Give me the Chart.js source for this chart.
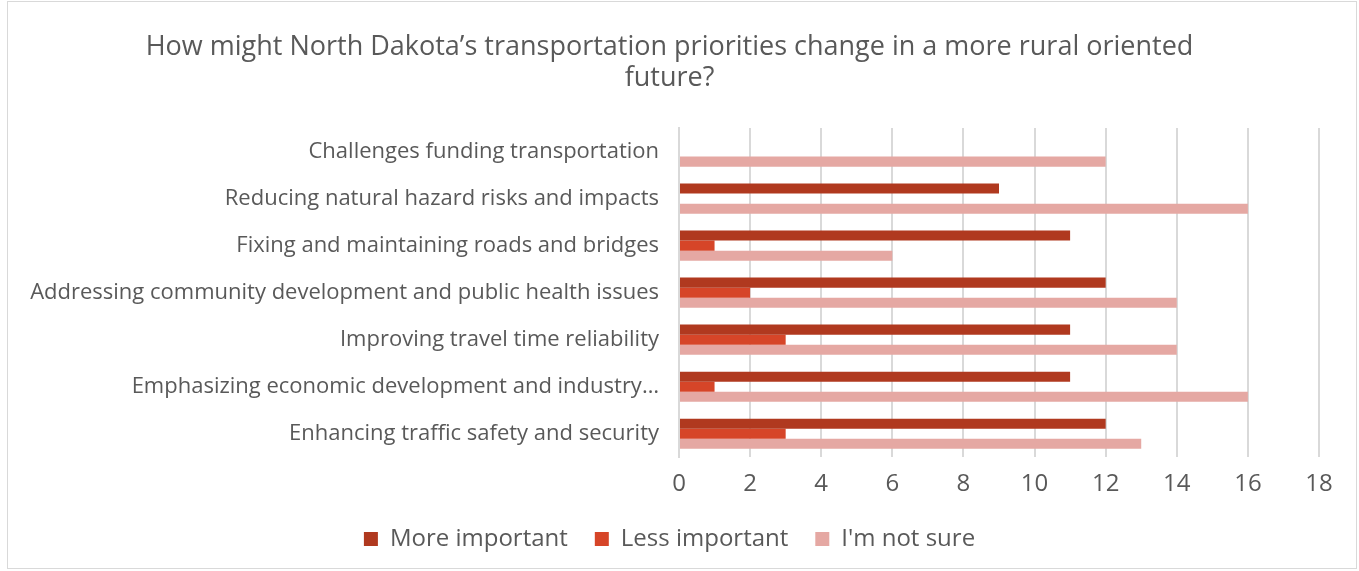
<!DOCTYPE html>
<html>
<head>
<meta charset="utf-8">
<script src="https://cdn.jsdelivr.net/npm/chart.js@4/dist/chart.umd.min.js"></script>
<style>
  html,body{margin:0;padding:0;background:#fff;}
  #wrap{position:relative;width:1359px;height:571px;}
  #frame{position:absolute;left:7px;top:1px;width:1350px;height:568px;border:1px solid #D9D9D9;box-sizing:border-box;}
  canvas{position:absolute;left:0;top:0;}
</style>
</head>
<body>
<div id="wrap">
  <div id="frame"></div>
  <canvas id="chart" width="1359" height="571"></canvas>
</div>
<script>
  const categories = [
    'Challenges funding transportation',
    'Reducing natural hazard risks and impacts',
    'Fixing and maintaining roads and bridges',
    'Addressing community development and public health issues',
    'Improving travel time reliability',
    'Emphasizing economic development and industry\u2026',
    'Enhancing traffic safety and security'
  ];
  const moreImportant = [0, 9, 11, 12, 11, 11, 12];
  const lessImportant = [0, 0, 1, 2, 3, 1, 3];
  const notSure = [12, 16, 6, 14, 14, 16, 13];
  const xTicks = [0, 2, 4, 6, 8, 10, 12, 14, 16, 18];

  const FONT = "'Open Sans', 'DejaVu Sans', sans-serif";
  const GREY = '#595959';

  new Chart(document.getElementById('chart'), {
    type: 'bar',
    data: {
      labels: categories,
      datasets: [
        {label: 'More important', data: moreImportant, backgroundColor: '#B0391F'},
        {label: 'Less important', data: lessImportant, backgroundColor: '#D64528'},
        {label: "I'm not sure", data: notSure, backgroundColor: '#E5A8A3'}
      ]
    },
    options: {
      indexAxis: 'y',
      responsive: false,
      animation: false,
      layout: {padding: {left: 20, right: 40, top: 10, bottom: 10}},
      datasets: {bar: {categoryPercentage: 0.64, barPercentage: 1}},
      scales: {
        x: {
          min: 0, max: 18,
          afterBuildTicks: s => { s.ticks = xTicks.map(v => ({value: v})); },
          grid: {color: '#D9D9D9', lineWidth: 2, drawTicks: false},
          border: {display: false},
          ticks: {color: GREY, font: {family: FONT, size: 24}, padding: 13},
          afterFit: s => { s.height -= 12; }
        },
        y: {
          grid: {display: false},
          border: {color: '#D9D9D9', width: 2},
          ticks: {color: GREY, font: {family: FONT, size: 22}, padding: 12},
          afterFit: s => { s.width = 659; }
        }
      },
      plugins: {
        title: {
          display: true,
          text: ['How might North Dakota\u2019s transportation priorities change in a more rural oriented', 'future?'],
          color: GREY,
          font: {family: FONT, size: 27, weight: 'normal', lineHeight: 1.15},
          padding: {top: 22, bottom: 34}
        },
        legend: {
          position: 'bottom',
          labels: {color: GREY, font: {family: FONT, size: 24}, boxWidth: 14, boxHeight: 14, padding: 27}
        },
        tooltip: {enabled: false}
      }
    }
  });
</script>
</body>
</html>
